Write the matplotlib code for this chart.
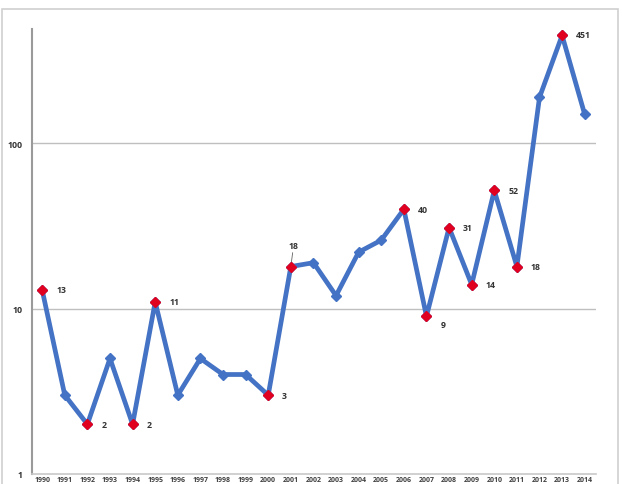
import matplotlib
matplotlib.use("Agg")
import matplotlib.pyplot as plt
from matplotlib.patches import Rectangle
import numpy as np

years = list(range(1990, 2015))
values = [13, 3, 2, 5, 2, 11, 3, 5, 4, 4, 3, 18, 19, 12, 22, 26, 40, 9, 31, 14, 52, 18, 190, 451, 150]
highlight = [1990, 1992, 1994, 1995, 2000, 2001, 2006, 2007, 2008, 2009, 2010, 2011, 2013]

plt.rcParams['font.family'] = ['Open Sans', 'DejaVu Sans']

fig = plt.figure(figsize=(6.22, 4.85), dpi=100)
fig.patches.append(Rectangle((2/622, -0.05), 616/622, 1.05 - 10/485, transform=fig.transFigure,
                             fill=False, edgecolor='#d0d0d0', linewidth=1.2))
ax = fig.add_axes([32/622, 10/485, 564/622, 445/485])
x = np.arange(len(years))
blue = '#4472c4'
ax.plot(x, values, color=blue, linewidth=3.4, marker='D', markersize=5,
        markerfacecolor=blue, markeredgecolor=blue, zorder=3)
hx = [years.index(y) for y in highlight]
hv = [values[i] for i in hx]
ax.plot(hx, hv, linestyle='none', marker='D', markersize=5, color='#e00020', zorder=4)

lab = dict(fontsize=6.3, fontweight='bold', color='#333333')
for i in hx:
    v = values[i]
    y = years[i]
    if y == 2001:
        ax.annotate(str(v), (i, v), xytext=(2, 12), textcoords='offset points',
                    ha='center', va='bottom',
                    arrowprops=dict(arrowstyle='-', color='#606060', lw=0.6, shrinkA=0, shrinkB=2), **lab)
    elif y == 2007:
        ax.annotate(str(v), (i, v), xytext=(10, -6), textcoords='offset points',
                    ha='left', va='center', **lab)
    elif y == 2013:
        ax.annotate(str(v), (i, v), xytext=(10, 1), textcoords='offset points',
                    ha='left', va='center', **lab)
    else:
        ax.annotate(str(v), (i, v), xytext=(10, 0), textcoords='offset points',
                    ha='left', va='center', **lab)

ax.set_yscale('log')
ax.set_ylim(1, 493)
ax.set_xlim(-0.45, 24.5)
ax.set_yticks([1, 10, 100])
ax.set_yticklabels(['1', '10', '100'], fontsize=6.3, fontweight='bold', color='#333333')
ax.yaxis.set_minor_locator(matplotlib.ticker.NullLocator())
ax.set_xticks(x)
ax.set_xticklabels([str(y) for y in years], fontsize=5, fontweight='bold', color='#404040')
ax.tick_params(axis='both', length=0, pad=7)
ax.tick_params(axis='x', pad=1.5)
for yv in [10, 100]:
    ax.axhline(yv, color='#bfbfbf', linewidth=1, zorder=1)
for s in ['top', 'right']:
    ax.spines[s].set_visible(False)
ax.spines['left'].set_color('#9a9a9a')
ax.spines['left'].set_linewidth(1.5)
ax.spines['bottom'].set_color('#c8c8c8')
ax.spines['bottom'].set_linewidth(1.2)

fig.savefig('out.png', dpi=100)
